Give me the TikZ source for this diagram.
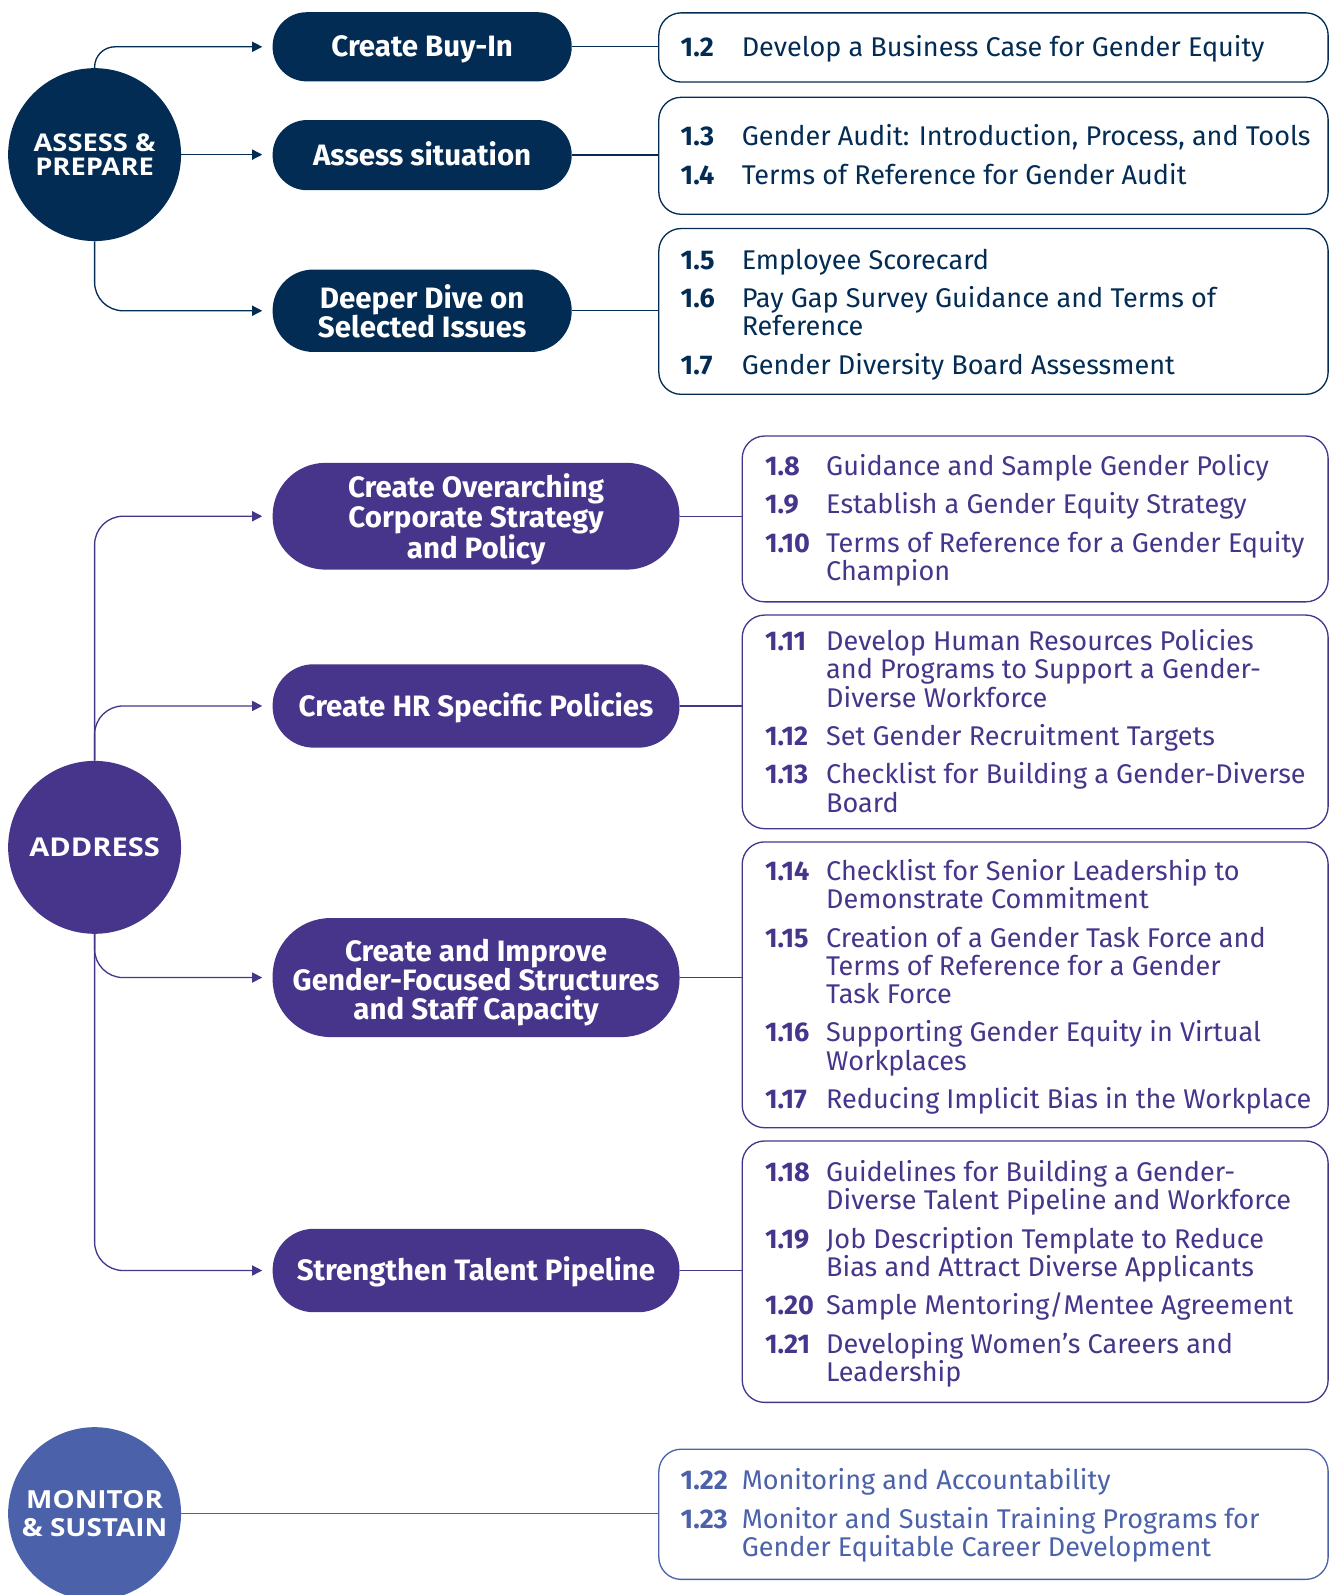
\documentclass[tikz,border=0pt]{standalone}
\usepackage{fontspec}
\setmainfont{Fira Sans}
\newfontfamily\circfont[FakeStretch=1.12]{Open Sans}
\usetikzlibrary{arrows.meta}
\definecolor{navy}{HTML}{032C54}
\definecolor{purp}{HTML}{46358B}
\definecolor{mblue}{HTML}{4B62AA}
\newcommand{\itemfont}{\fontsize{26.6}{27.8}\selectfont}
\newcommand{\gp}{\vskip 9.9pt}
\newcommand{\ra}[2]{\hbox{\hbox to 60pt{\textbf{#1}\hss}#2}}
\newcommand{\rb}[1]{\hbox{\hbox to 60pt{\hss}#1}}
\newcommand{\lst}[1]{\vtop{\lineskiplimit=-1000pt\relax #1}}
\begin{document}
\begin{tikzpicture}[x=1pt,y=-1pt,
  circ/.style={circle, fill=#1, minimum size=170pt, inner sep=0pt, text=white,
    font=\circfont\bfseries\fontsize{24}{24}\selectfont, align=center},
  pill/.style={fill=#1, text=white, align=center, inner sep=0pt, text depth=0pt, text height=20pt,
    font=\bfseries\fontsize{29}{28.7}\selectfont},
  two/.style={text height=53.2pt},
  three/.style={text height=83.4pt},
  listbox/.style={draw=#1, line width=1.3pt, rounded corners=22pt, anchor=north west, inner sep=0pt},
  lst/.style={text=#1, anchor=base west, inner sep=0pt, font=\itemfont},
  conn/.style={draw=#1, line width=1.3pt},
  arr/.style={draw=#1, line width=1.3pt, -{Triangle[length=10pt,width=10pt]}, shorten >=10pt},
]
\useasboundingbox (0,0) rectangle (1307.5,1568);

% ---------- circles ----------
\node[circ=navy] (AP) at (93,152) {ASSESS \&\\PREPARE};
\node[circ=purp, font=\circfont\bfseries\fontsize{25.5}{26}\selectfont] (AD) at (93,833) {ADDRESS};
\node[circ=mblue, font=\circfont\bfseries\fontsize{24.5}{27}\selectfont] (MS) at (93,1488) {MONITOR\\\& SUSTAIN};

% ---------- pills ----------
\node[pill=navy, minimum width=294pt, minimum height=68pt, rounded corners=33.5pt] (buyin) at (415,46) {Create Buy-In};
\node[pill=navy, minimum width=294pt, minimum height=69pt, rounded corners=34pt] (assess) at (415,152.5) {Assess situation};
\node[pill=navy, two, minimum width=294pt, minimum height=81pt, rounded corners=40pt] (deeper) at (415,305.5) {Deeper Dive on\\Selected Issues};

\node[pill=purp, three, minimum width=400pt, minimum height=105pt, rounded corners=52pt] (ov) at (468,507.5) {Create Overarching\\Corporate Strategy\\and Policy};
\node[pill=purp, minimum width=400pt, minimum height=82pt, rounded corners=40.5pt] (hr) at (468,694) {Create HR Specific Policies};
\node[pill=purp, three, minimum width=400pt, minimum height=117pt, rounded corners=57pt] (cs) at (468,961) {Create and Improve\\Gender-Focused Structures\\and Staff Capacity};
\node[pill=purp, minimum width=400pt, minimum height=82pt, rounded corners=40.5pt] (tp) at (468,1249) {Strengthen Talent Pipeline};

% ---------- list boxes ----------
\node[listbox=navy, minimum width=658pt, minimum height=68pt] (b1) at (647,12) {};
\node[listbox=navy, minimum width=658pt, minimum height=115pt] (b2) at (647,95) {};
\node[listbox=navy, minimum width=658pt, minimum height=163pt] (b3) at (647,224) {};
\node[listbox=purp, minimum width=576pt, minimum height=163pt] (bA) at (729,428) {};
\node[listbox=purp, minimum width=576pt, minimum height=210pt] (bB) at (729,604) {};
\node[listbox=purp, minimum width=576pt, minimum height=281pt] (bC) at (729,827) {};
\node[listbox=purp, minimum width=576pt, minimum height=257pt] (bD) at (729,1121) {};
\node[listbox=mblue, minimum width=658pt, minimum height=128pt] (bM) at (647,1424) {};

% ---------- list texts ----------
\node[lst=navy] (t1) at (669,55.5) {\lst{\ra{1.2}{Develop a Business Case for Gender Equity}}};
\node[lst=navy] (t2) at (669,143.5) {\lst{%
\ra{1.3}{Gender Audit: Introduction, Process, and Tools}\gp
\ra{1.4}{Terms of Reference for Gender Audit}}};
\node[lst=navy] (t3) at (669,264.5) {\lst{%
\ra{1.5}{Employee Scorecard}\gp
\ra{1.6}{Pay Gap Survey Guidance and Terms of}
\rb{Reference}\gp
\ra{1.7}{Gender Diversity Board Assessment}}};

\node[lst=purp] (tA) at (752,467.5) {\lst{%
\ra{1.8}{Guidance and Sample Gender Policy}\gp
\ra{1.9}{Establish a Gender Equity Strategy}\gp
\ra{1.10}{Terms of Reference for a Gender Equity}
\rb{Champion}}};
\node[lst=purp] (tB) at (752,639.5) {\lst{%
\ra{1.11}{Develop Human Resources Policies}
\rb{and Programs to Support a Gender-}
\rb{Diverse Workforce}\gp
\ra{1.12}{Set Gender Recruitment Targets}\gp
\ra{1.13}{Checklist for Building a Gender-Diverse}
\rb{Board}}};
\node[lst=purp] (tC) at (752,865.5) {\lst{%
\ra{1.14}{Checklist for Senior Leadership to}
\rb{Demonstrate Commitment}\gp
\ra{1.15}{Creation of a Gender Task Force and}
\rb{Terms of Reference for a Gender}
\rb{Task Force}\gp
\ra{1.16}{Supporting Gender Equity in Virtual}
\rb{Workplaces}\gp
\ra{1.17}{Reducing Implicit Bias in the Workplace}}};
\node[lst=purp] (tD) at (752,1161.5) {\lst{%
\ra{1.18}{Guidelines for Building a Gender-}
\rb{Diverse Talent Pipeline and Workforce}\gp
\ra{1.19}{Job Description Template to Reduce}
\rb{Bias and Attract Diverse Applicants}\gp
\ra{1.20}{Sample Mentoring/Mentee Agreement}\gp
\ra{1.21}{Developing Women’s Careers and}
\rb{Leadership}}};
\node[lst=mblue] (tM) at (669,1464.5) {\lst{%
\ra{1.22}{Monitoring and Accountability}\gp
\ra{1.23}{Monitor and Sustain Training Programs for}
\rb{Gender Equitable Career Development}}};

% ---------- connectors ----------
\draw[arr=navy, rounded corners=20pt] (AP.north) |- (buyin.west);
\draw[arr=navy] (AP.east) -- (AP.east -| assess.west);
\draw[arr=navy, rounded corners=28pt] (AP.south) |- (deeper.west);
\draw[conn=navy] (buyin.east) -- (buyin.east -| b1.west);
\draw[conn=navy] (assess.east) -- (assess.east -| b2.west);
\draw[conn=navy] (deeper.east) -- (deeper.east -| b3.west);

\draw[arr=purp, rounded corners=28pt] (AD.north) |- (ov.west);
\draw[arr=purp, rounded corners=28pt] (AD.north) |- (hr.west);
\draw[arr=purp, rounded corners=28pt] (AD.south) |- (cs.west);
\draw[arr=purp, rounded corners=28pt] (AD.south) |- (tp.west);
\draw[conn=purp] (ov.east) -- (ov.east -| bA.west);
\draw[conn=purp] (hr.east) -- (hr.east -| bB.west);
\draw[conn=purp] (cs.east) -- (cs.east -| bC.west);
\draw[conn=purp] (tp.east) -- (tp.east -| bD.west);

\draw[conn=mblue] (MS.east) -- (MS.east -| bM.west);
\end{tikzpicture}
\end{document}
